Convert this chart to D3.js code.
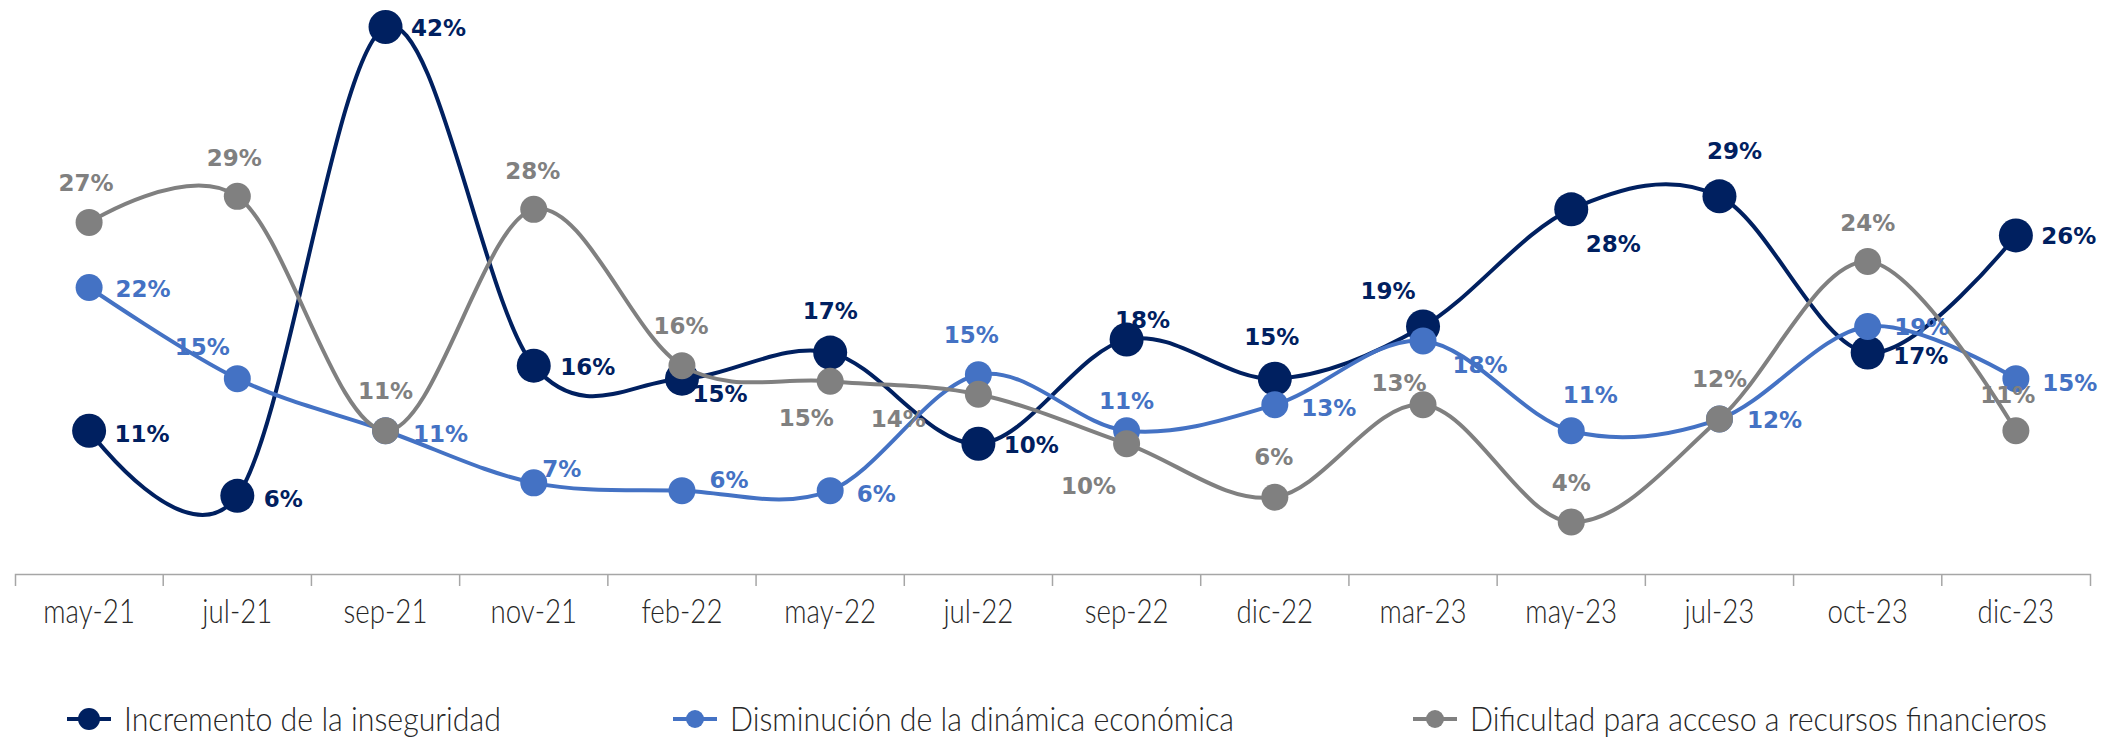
<!DOCTYPE html>
<html>
<head>
<meta charset="utf-8">
<script src="https://cdn.jsdelivr.net/npm/d3@7"></script>
<style>
  body { margin: 0; background: #fff; }
  svg { display: block; }
</style>
</head>
<body>
<svg id="chart" width="2118" height="737"></svg>
<script>
// data
let periods = ["may-21","jul-21","sep-21","nov-21","feb-22","may-22","jul-22","sep-22","dic-22","mar-23","may-23","jul-23","oct-23","dic-23"];
let inseguridad = [11, 6, 42, 16, 15, 17, 10, 18, 15, 19, 28, 29, 17, 26];
let dinamica = [22, 15, 11, 7, 6.4, 6.4, 15.3, 11, 13, 17.9, 11, 11.9, 19, 15];
let financieros = [27, 29, 11, 28, 16, 14.8, 13.8, 10, 5.9, 13, 4, 11.9, 24, 11];
let seriesNames = ["Incremento de la inseguridad", "Disminución de la dinámica económica", "Dificultad para acceso a recursos financieros"];

// label shifts (px) relative to each marker, per series
let shiftInseg = [[53,3],[46,3],[53,1],[54,1],[38,15],[0,-42],[53,1],[16,-20],[-3,-42],[-35,-36],[42,34],[15,-46],[53,3],[53,0]];
let shiftDinam = [[54,1],[-35,-32],[55,3],[28,-14],[47,-11],[46,3],[-7,-40],[0,-30],[54,3],[57,24],[19,-36],[55,1],[54,0],[54,4]];
let shiftFinan = [[-3,-40],[-3,-39],[0,-40],[-1,-39],[-1,-40],[-24,36],[-80,24],[-38,42],[-1,-40],[-24,-22],[0,-39],[0,-40],[0,-39],[-8,-36]];

let svg = d3.select("svg#chart");
let axisY = 574;

let series = [
  { name: seriesNames[0], values: inseguridad, color: "#002060", r: 17, shift: shiftInseg },
  { name: seriesNames[1], values: dinamica, color: "#4472C4", r: 13.5, shift: shiftDinam },
  { name: seriesNames[2], values: financieros, color: "#808080", r: 13.5, shift: shiftFinan }
];

let xScale = d3.scaleBand().domain(periods).range([15, 2090]).padding(0);
let yScale = d3.scaleLinear().domain([0, 44]).range([axisY, 1]);
let cx = d => xScale(d) + xScale.bandwidth() / 2;

// x axis
let bottomAxis = d3.axisBottom(xScale).tickSizeInner(0).tickSizeOuter(12).tickPadding(0);
let gx = svg.append("g")
    .attr("class", "x axis")
    .attr("transform", "translate(0," + axisY + ")")
    .call(bottomAxis);
gx.select(".domain").attr("stroke", "#a6a6a6").attr("stroke-width", 1.5);
// the reference uses a tall, narrow light face: squeeze Lato Light horizontally
gx.selectAll(".tick text")
    .attr("y", 0)
    .attr("dy", "0.35em")
    .attr("transform", "translate(0,37) scale(0.84,1)")
    .style("font-family", "Lato")
    .style("font-weight", 300)
    .style("font-size", "33px")
    .style("fill", "#262626");
// boundary ticks between categories
svg.append("g").selectAll("line")
    .data(periods.slice(1))
    .join("line")
    .attr("x1", d => xScale(d)).attr("x2", d => xScale(d))
    .attr("y1", axisY).attr("y2", axisY + 12)
    .attr("stroke", "#a6a6a6").attr("stroke-width", 1.5);

let line = d3.line()
    .x((d, i) => cx(periods[i]))
    .y(d => yScale(d))
    .curve(d3.curveCardinal.tension(0));

// lines + markers
series.forEach(s => {
  let g = svg.append("g");
  g.append("path")
      .datum(s.values)
      .attr("d", line)
      .attr("fill", "none")
      .attr("stroke", s.color)
      .attr("stroke-width", 4);
  g.selectAll("circle")
      .data(s.values)
      .join("circle")
      .attr("cx", (d, i) => cx(periods[i]))
      .attr("cy", d => yScale(d))
      .attr("r", s.r)
      .attr("fill", s.color);
});

// data labels
series.forEach(s => {
  svg.append("g").selectAll("text")
      .data(s.values)
      .join("text")
      .attr("x", (d, i) => cx(periods[i]) + s.shift[i][0])
      .attr("y", (d, i) => yScale(d) + s.shift[i][1])
      .attr("dy", "0.36em")
      .attr("text-anchor", "middle")
      .style("font-family", "DejaVu Sans")
      .style("font-weight", "bold")
      .style("font-size", "23px")
      .style("fill", s.color)
      .text(d => Math.round(d) + "%");
});

// legend
let legendX = [67, 673, 1413];
let legendY = 719;
series.forEach((s, i) => {
  let g = svg.append("g").attr("transform", "translate(" + legendX[i] + "," + legendY + ")");
  g.append("line").attr("x1", 0).attr("x2", 44).attr("y1", 0).attr("y2", 0)
      .attr("stroke", s.color).attr("stroke-width", 4);
  g.append("circle").attr("cx", 22).attr("cy", 0).attr("r", i == 0 ? 11 : 9).attr("fill", s.color);
  g.append("text")
      .attr("x", 0).attr("y", 0).attr("dy", "0.35em")
      .attr("transform", "translate(57,0) scale(0.92,1)")
      .style("font-family", "Lato")
      .style("font-weight", 300)
      .style("font-size", "33px")
      .style("fill", "#262626")
      .text(s.name);
});
</script>
</body>
</html>
